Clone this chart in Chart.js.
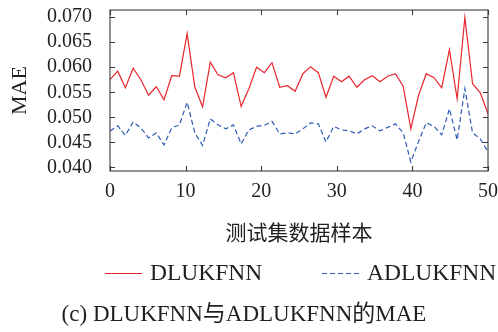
<!DOCTYPE html>
<html>
<head>
<meta charset="utf-8">
<style>
  html, body { margin: 0; padding: 0; background: #ffffff; }
  #c { display: block; }
</style>
<script src="https://cdn.jsdelivr.net/npm/chart.js@4/dist/chart.umd.min.js"></script>
</head>
<body>
<canvas id="c" width="498" height="332"></canvas>
<script>
// ---- data ----
const seriesNames = ['DLUKFNN', 'ADLUKFNN'];
const dlukfnnMAE = [
  0.0575, 0.0592, 0.0559, 0.0598, 0.0575, 0.0544, 0.0561, 0.0535, 0.0583, 0.0582,
  0.0667, 0.0560, 0.0521, 0.0610, 0.0585, 0.0579, 0.0589, 0.0522, 0.0557, 0.0600,
  0.0589, 0.0609, 0.0560, 0.0563, 0.0552, 0.0587, 0.0601, 0.0589, 0.0540, 0.0582,
  0.0571, 0.0582, 0.0560, 0.0575, 0.0583, 0.0571, 0.0582, 0.0587, 0.0562, 0.0477,
  0.0544, 0.0587, 0.0579, 0.0559, 0.0635, 0.0537, 0.0699, 0.0567, 0.0549, 0.0507
];
const adlukfnnMAE = [
  0.0473, 0.0483, 0.0464, 0.0491, 0.0479, 0.0459, 0.0469, 0.0445, 0.0479, 0.0485,
  0.0530, 0.0469, 0.0444, 0.0497, 0.0485, 0.0477, 0.0485, 0.0447, 0.0475, 0.0482,
  0.0484, 0.0492, 0.0467, 0.0469, 0.0467, 0.0477, 0.0489, 0.0487, 0.0451, 0.0482,
  0.0475, 0.0473, 0.0467, 0.0477, 0.0483, 0.0473, 0.0480, 0.0487, 0.0469, 0.0411,
  0.0452, 0.0489, 0.0482, 0.0465, 0.0517, 0.0455, 0.0557, 0.0469, 0.0457, 0.0431
];
const xTickValues = [0, 10, 20, 30, 40, 50];
const yTickValues = [0.040, 0.045, 0.050, 0.055, 0.060, 0.065, 0.070];
const xTitle = '测试集数据样本';
const yTitle = 'MAE';
const caption = '(c) DLUKFNN与ADLUKFNN的MAE';

// samples are spread evenly over the 0..50 axis
const X_MIN = 0, X_MAX = 50;
function toPoints(values) {
  const n = values.length;
  return values.map((v, i) => ({ x: X_MIN + i * (X_MAX - X_MIN) / (n - 1), y: v }));
}

const SERIF = '"Liberation Serif", "Times New Roman", "Noto Sans CJK SC", serif';
const CJK = '"Noto Sans CJK SC", "Liberation Serif", sans-serif';
const TEXT = '#231f20';
const RED = '#e8262d';
const BLUE = '#2d5cb3';
const BLUE_DASH = [5, 3];

// inward ticks + box frame
const framePlugin = {
  id: 'frame',
  afterDatasetsDraw(chart) {
    const { ctx, chartArea: a, scales } = chart;
    const L = 5;
    ctx.save();
    ctx.strokeStyle = '#3a3a3a';
    ctx.lineWidth = 1.1;
    ctx.beginPath();
    xTickValues.forEach(v => {
      const px = Math.round(scales.x.getPixelForValue(v)) + 0.5;
      ctx.moveTo(px, a.bottom); ctx.lineTo(px, a.bottom - L);
      ctx.moveTo(px, a.top); ctx.lineTo(px, a.top + L);
    });
    yTickValues.forEach(v => {
      const py = Math.round(scales.y.getPixelForValue(v)) + 0.5;
      ctx.moveTo(a.left, py); ctx.lineTo(a.left + L, py);
      ctx.moveTo(a.right, py); ctx.lineTo(a.right - L, py);
    });
    ctx.stroke();
    ctx.strokeRect(a.left, a.top, a.right - a.left, a.bottom - a.top);
    ctx.restore();
  }
};

// legend row drawn below the x axis title
const legendRowPlugin = {
  id: 'legendRow',
  afterDraw(chart) {
    const { ctx } = chart;
    const yLine = 273.5;
    const yBase = 280;
    const items = [
      { x: 105, ds: chart.data.datasets[0] },
      { x: 322, ds: chart.data.datasets[1] }
    ];
    ctx.save();
    ctx.font = '23.5px ' + SERIF;
    ctx.textBaseline = 'alphabetic';
    ctx.textAlign = 'left';
    items.forEach(it => {
      ctx.strokeStyle = it.ds.borderColor;
      ctx.lineWidth = 1.2;
      ctx.setLineDash(it.ds.borderDash || []);
      ctx.beginPath();
      ctx.moveTo(it.x, yLine);
      ctx.lineTo(it.x + 37, yLine);
      ctx.stroke();
      ctx.setLineDash([]);
      ctx.fillStyle = TEXT;
      ctx.fillText(it.ds.label, it.x + 45, yBase);
    });
    ctx.restore();
  }
};

new Chart(document.getElementById('c'), {
  type: 'line',
  data: {
    datasets: [
      {
        label: seriesNames[0],
        data: toPoints(dlukfnnMAE),
        borderColor: RED,
        borderWidth: 1.2,
        pointRadius: 0,
        tension: 0,
        fill: false
      },
      {
        label: seriesNames[1],
        data: toPoints(adlukfnnMAE),
        borderColor: BLUE,
        borderWidth: 1.2,
        borderDash: BLUE_DASH,
        pointRadius: 0,
        tension: 0,
        fill: false
      }
    ]
  },
  options: {
    responsive: false,
    animation: false,
    devicePixelRatio: 1,
    layout: { padding: { top: 10, right: 10, left: 0, bottom: 0 } },
    plugins: {
      legend: { display: false },
      tooltip: { enabled: false },
      title: {
        display: true,
        position: 'bottom',
        text: caption,
        color: TEXT,
        font: { family: SERIF, size: 23, weight: 'normal' },
        padding: { top: 51, bottom: 3.4 }
      }
    },
    scales: {
      x: {
        type: 'linear',
        position: 'bottom',
        min: X_MIN,
        max: X_MAX,
        grid: { display: false, drawTicks: false },
        border: { display: false },
        afterBuildTicks(s) { s.ticks = xTickValues.map(v => ({ value: v })); },
        afterFit(s) { s.height = 79; s.paddingLeft = 0; s.paddingRight = 0; },
        ticks: {
          padding: 9,
          color: TEXT,
          maxRotation: 0,
          autoSkip: false,
          font: { family: SERIF, size: 20 },
          callback: v => String(v)
        },
        title: {
          display: true,
          text: xTitle,
          color: TEXT,
          font: { family: CJK, size: 21, weight: 'normal' },
          padding: { top: 0, bottom: 5 }
        }
      },
      y: {
        type: 'linear',
        position: 'left',
        min: 0.0393,
        max: 0.0714,
        grid: { display: false, drawTicks: false },
        border: { display: false },
        afterBuildTicks(s) { s.ticks = yTickValues.map(v => ({ value: v })); },
        afterFit(s) { s.width = 110; s.paddingTop = 0; s.paddingBottom = 0; },
        ticks: {
          padding: 18,
          color: TEXT,
          autoSkip: false,
          font: { family: SERIF, size: 20 },
          callback: v => Number(v).toFixed(3)
        },
        title: {
          display: true,
          text: yTitle,
          color: TEXT,
          font: { family: SERIF, size: 22, weight: 'normal' },
          padding: { top: 7, bottom: 0 }
        }
      }
    }
  },
  plugins: [framePlugin, legendRowPlugin]
});
</script>
</body>
</html>
